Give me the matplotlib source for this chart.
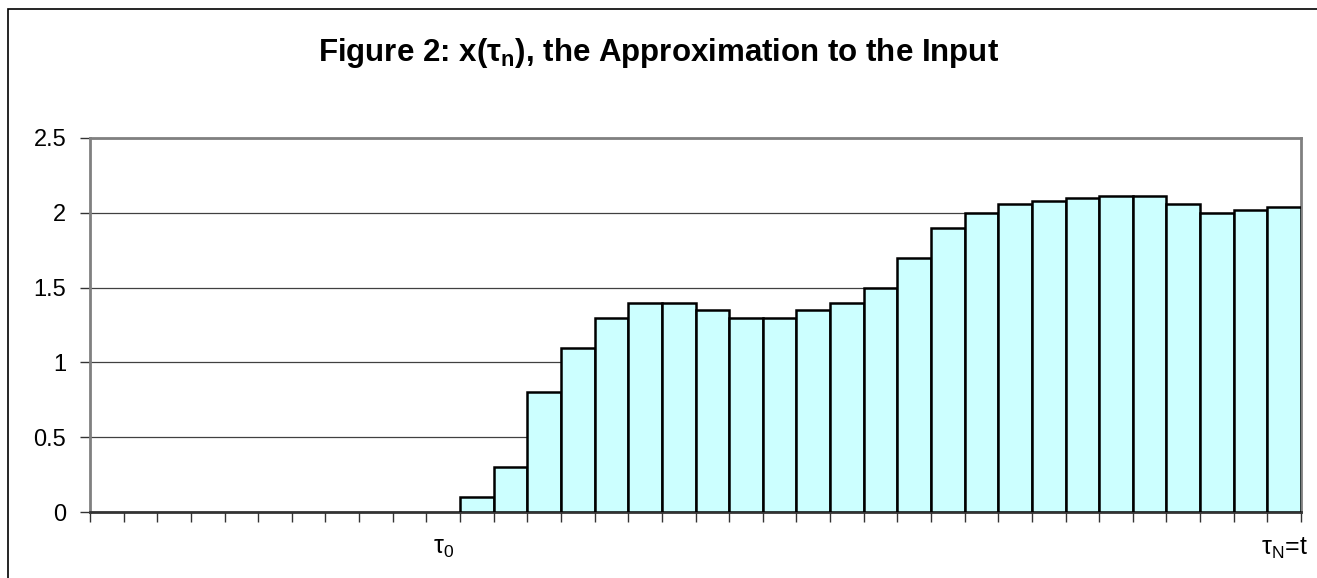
import numpy as np
import matplotlib.pyplot as plt
from matplotlib.patches import Rectangle

plt.rcParams['font.family'] = ['Liberation Sans', 'DejaVu Sans']
plt.rcParams['mathtext.fontset'] = 'custom'
plt.rcParams['mathtext.rm'] = 'Liberation Sans'
plt.rcParams['mathtext.bf'] = 'Liberation Sans:bold'
plt.rcParams['mathtext.it'] = 'Liberation Sans:italic'

# data: 36 categories, first 11 empty (value 0)
values = [0] * 11 + [0.1, 0.3, 0.8, 1.1, 1.3, 1.4, 1.4, 1.35, 1.3, 1.3, 1.35,
                     1.4, 1.5, 1.7, 1.9, 2.0, 2.06, 2.08, 2.1, 2.11, 2.11,
                     2.06, 2.0, 2.02, 2.04]
labels = [''] * 36
labels[10] = 'τ$_0$'
labels[35] = 'τ$_\\mathrm{N}$=t'
yticks = [0, 0.5, 1, 1.5, 2, 2.5]
ytick_labels = ['0', '0.5', '1', '1.5', '2', '2.5']

fig = plt.figure(figsize=(13.17, 5.78), dpi=100)
ax = fig.add_axes([0.0683, 0.1137, 0.9196, 0.6479])

x = np.arange(len(values)) + 0.5
nz = np.array(values) > 0
ax.bar(x[nz], np.array(values)[nz], width=1.0, color='#CCFFFF',
       edgecolor='black', linewidth=1.8, zorder=3)

ax.set_xlim(0, len(values))
ax.set_ylim(0, 2.5)
ax.set_yticks(yticks)
ax.set_yticklabels(ytick_labels)
ax.yaxis.grid(True, color='#404040', linewidth=0.9, zorder=0)
ax.set_axisbelow(True)

# category boundary ticks, labels centred in the categories
ax.set_xticks(np.arange(len(values) + 1))
ax.set_xticklabels([])
ax.set_xticks(x, minor=True)
ax.set_xticklabels(labels, minor=True)
ax.tick_params(axis='x', which='major', length=7, width=1, color='#333333', direction='out')
ax.tick_params(axis='x', which='minor', length=0, labelsize=18, pad=17)
ax.tick_params(axis='y', length=7, width=1, color='#333333', labelsize=17, pad=10)

for side in ['left', 'top', 'right']:
    ax.spines[side].set_color('#808080')
    ax.spines[side].set_linewidth(2)
ax.spines['bottom'].set_color('#333333')
ax.spines['bottom'].set_linewidth(2)

fig.text(0.5, 1 - 61 / 578, 'Figure 2: x(τ$_\\mathbf{n}$), the Approximation to the Input',
         ha='center', va='baseline', fontsize=22.5, fontweight='bold')

# outer chart border (cropped at right and bottom)
fig.patches.append(Rectangle((8 / 1317, -0.01), 1.02, 1 - 9 / 578 + 0.01,
                             transform=fig.transFigure, fill=False,
                             edgecolor='black', linewidth=1.2))

fig.savefig('out.png', dpi=100)
